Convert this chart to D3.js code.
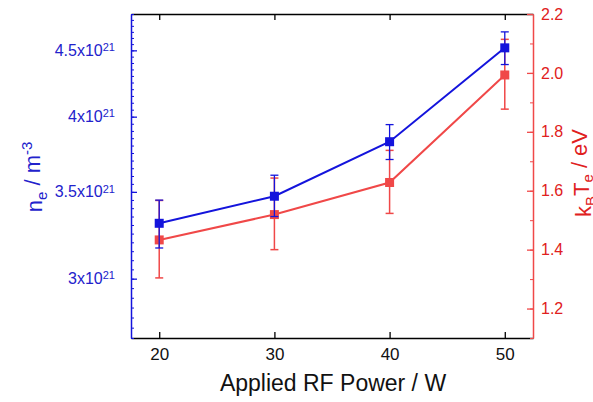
<!DOCTYPE html>
<html>
<head>
<meta charset="utf-8">
<script src="https://d3js.org/d3.v7.min.js"></script>
<style>
body{margin:0;background:#fff;}
svg{font-family:"Liberation Sans",Arial,sans-serif;}
</style>
</head>
<body>
<svg id="chart" width="593" height="402"></svg>
<script>
// data
var power = [20, 30, 40, 50];
var ne = [3.31e21, 3.473e21, 3.826e21, 4.52e21];
var neLow = [3.168e21, 3.35e21, 3.707e21, 4.388e21];
var neHigh = [3.449e21, 3.605e21, 3.944e21, 4.65e21];
var te = [1.433, 1.519, 1.628, 1.993];
var teLow = [1.304, 1.4, 1.523, 1.877];
var teHigh = [1.567, 1.643, 1.737, 2.114];

var xTicks = [20, 30, 40, 50];
var neTicks = [3e21, 3.5e21, 4e21, 4.5e21];
var neTickText = ["3", "3.5", "4", "4.5"];
var teTicks = [1.2, 1.4, 1.6, 1.8, 2.0, 2.2];

var blue = "#1414dc", red = "#f04848";
var blueTxt = "#2222cc", redTxt = "#e02020";

var svg = d3.select("#chart");
var pLeft = 131, pRight = 533, pTop = 14, pBottom = 338;

var x = d3.scaleLinear().domain([17.55, 52.45]).range([pLeft, pRight]);
var yL = d3.scaleLog().domain([2.7e21, 4.8e21]).range([pBottom, pTop]);
var yR = d3.scaleLinear().domain([1.1, 2.2]).range([pBottom, pTop]);

// bottom axis
var gx = svg.append("g").attr("transform", "translate(0," + pBottom + ")")
  .call(d3.axisBottom(x).tickValues(xTicks).tickSizeInner(-6).tickSizeOuter(0).tickPadding(10));
gx.select(".domain").attr("stroke", "#000").attr("stroke-width", 1.3);
gx.selectAll(".tick line").attr("stroke-width", 1.3);
gx.selectAll("text").attr("font-size", 17).attr("fill", "#111").attr("font-family", "Liberation Sans, Arial, sans-serif");

// top frame
var gt = svg.append("g").attr("transform", "translate(0," + pTop + ")")
  .call(d3.axisTop(x).tickValues(xTicks).tickSizeInner(-6).tickSizeOuter(0).tickFormat(""));
gt.select(".domain").attr("stroke", "#000").attr("stroke-width", 1.3);
gt.selectAll(".tick line").attr("stroke-width", 1.3);

// left log axis, minor ticks every 0.05e21
var minor = d3.range(2.7, 4.8001, 0.05).map(function(d){ return Math.round(d*100)/100*1e21; });
var gm = svg.append("g").attr("transform", "translate(" + pLeft + ",0)")
  .call(d3.axisLeft(yL).tickValues(minor).tickSizeInner(-3).tickSizeOuter(0).tickFormat(""));
gm.select(".domain").remove();
gm.selectAll(".tick line").attr("stroke", blue);

var gl = svg.append("g").attr("transform", "translate(" + pLeft + ",0)")
  .call(d3.axisLeft(yL).tickValues(neTicks).tickSizeInner(-6).tickSizeOuter(0).tickPadding(16).tickFormat(""));
gl.select(".domain").attr("stroke", blue).attr("stroke-width", 1.5);
gl.selectAll(".tick line").attr("stroke", blue).attr("stroke-width", 1.3);
gl.selectAll(".tick text").each(function(d, i){
  var t = d3.select(this).attr("fill", blueTxt).attr("font-size", 16).attr("font-family", "Liberation Sans, Arial, sans-serif");
  t.append("tspan").text(neTickText[i] + "x10");
  t.append("tspan").attr("dy", "-0.45em").attr("font-size", 11).text("21");
});

// right axis
var teMinor = d3.range(1.1, 2.2001, 0.1);
var grm = svg.append("g").attr("transform", "translate(" + pRight + ",0)")
  .call(d3.axisRight(yR).tickValues(teMinor).tickSizeInner(-3).tickSizeOuter(0).tickFormat(""));
grm.select(".domain").remove();
grm.selectAll(".tick line").attr("stroke", red);

var gr = svg.append("g").attr("transform", "translate(" + pRight + ",0)")
  .call(d3.axisRight(yR).tickValues(teTicks).tickSizeInner(-6).tickSizeOuter(0).tickPadding(8).tickFormat(d3.format(".1f")));
gr.select(".domain").attr("stroke", red).attr("stroke-width", 1.5);
gr.selectAll(".tick line").attr("stroke", red).attr("stroke-width", 1.3);
gr.selectAll("text").attr("fill", redTxt).attr("font-size", 16).attr("font-family", "Liberation Sans, Arial, sans-serif");

// axis titles
svg.append("text").attr("x", 333).attr("y", 391).attr("text-anchor", "middle")
  .attr("font-size", 23).attr("fill", "#111").text("Applied RF Power / W");

var lt = svg.append("text").attr("transform", "translate(42,177) rotate(-90)")
  .attr("text-anchor", "middle").attr("font-size", 22).attr("fill", blueTxt);
lt.append("tspan").text("n");
lt.append("tspan").attr("dy", "0.3em").attr("font-size", 15).text("e");
lt.append("tspan").attr("dy", "-0.3em").text(" / m");
lt.append("tspan").attr("dy", "-0.5em").attr("font-size", 15).text("-3");

var rt = svg.append("text").attr("transform", "translate(591,173) rotate(-90)")
  .attr("text-anchor", "middle").attr("font-size", 22).attr("fill", redTxt);
rt.append("tspan").text("k");
rt.append("tspan").attr("dy", "0.3em").attr("font-size", 15).text("B");
rt.append("tspan").attr("dy", "-0.3em").text("T");
rt.append("tspan").attr("dy", "0.3em").attr("font-size", 15).text("e");
rt.append("tspan").attr("dy", "-0.3em").text(" / eV");

// series drawing
function drawSeries(vals, lo, hi, y, col, lw, ew){
  var g = svg.append("g");
  var pts = power.map(function(p, i){ return [p, vals[i], lo[i], hi[i]]; });
  g.selectAll(".eb").data(pts).enter().append("line")
    .attr("x1", function(d){ return x(d[0]); }).attr("x2", function(d){ return x(d[0]); })
    .attr("y1", function(d){ return y(d[2]); }).attr("y2", function(d){ return y(d[3]); })
    .attr("stroke", col).attr("stroke-width", ew);
  ["lo", "hi"].forEach(function(k, j){
    g.selectAll(".cap" + k).data(pts).enter().append("line")
      .attr("x1", function(d){ return x(d[0]) - 4; }).attr("x2", function(d){ return x(d[0]) + 4; })
      .attr("y1", function(d){ return y(d[2 + j]); }).attr("y2", function(d){ return y(d[2 + j]); })
      .attr("stroke", col).attr("stroke-width", ew);
  });
  g.append("path").datum(pts)
    .attr("d", d3.line().x(function(d){ return x(d[0]); }).y(function(d){ return y(d[1]); }))
    .attr("fill", "none").attr("stroke", col).attr("stroke-width", lw);
  g.selectAll("rect").data(pts).enter().append("rect")
    .attr("x", function(d){ return x(d[0]) - 4.5; }).attr("y", function(d){ return y(d[1]) - 4.5; })
    .attr("width", 9).attr("height", 9).attr("fill", col);
}
drawSeries(te, teLow, teHigh, yR, red, 2, 1.5);
drawSeries(ne, neLow, neHigh, yL, blue, 2, 1.3);
</script>
</body>
</html>
